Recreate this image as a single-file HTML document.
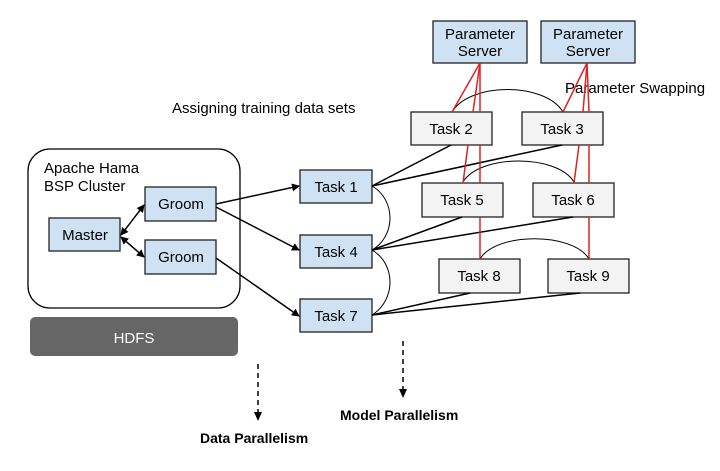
<!DOCTYPE html>
<html><head><style>
html,body{margin:0;padding:0;background:#fff;}
svg text{font-family:"Liberation Sans",Arial,sans-serif;}
</style></head><body>
<svg width="720" height="466" viewBox="0 0 720 466" xmlns="http://www.w3.org/2000/svg">
<defs>
<marker id="a" markerWidth="8" markerHeight="8" refX="7" refY="4" orient="auto" markerUnits="userSpaceOnUse"><path d="M0,0 L8,4 L0,8 z" fill="#000"/></marker>
<marker id="as" markerWidth="8" markerHeight="8" refX="1" refY="4" orient="auto" markerUnits="userSpaceOnUse"><path d="M8,0 L0,4 L8,8 z" fill="#000"/></marker>
</defs>
<rect x="28" y="149" width="212" height="159" rx="22" fill="#fff" stroke="#000" stroke-width="1.3"/>
<text x="44" y="173" font-size="15">Apache Hama</text>
<text x="44" y="191" font-size="15">BSP Cluster</text>
<rect x="30" y="317" width="208" height="39" rx="5" fill="#666"/>
<text x="134" y="343" font-size="15" fill="#fff" text-anchor="middle">HDFS</text>
<g fill="#cfe2f3" stroke="#222" stroke-width="1.3">
<rect x="49" y="218" width="71" height="33"/>
<rect x="145" y="187" width="71" height="34"/>
<rect x="145" y="240" width="71" height="34"/>
<rect x="300" y="170" width="72" height="33"/>
<rect x="300" y="235" width="72" height="33"/>
<rect x="300" y="299" width="72" height="33"/>
<rect x="433" y="21" width="94" height="42"/>
<rect x="541" y="21" width="94" height="42"/>
</g>
<g fill="#f3f3f3" stroke="#222" stroke-width="1.3">
<rect x="411" y="112" width="81" height="33"/>
<rect x="522" y="112" width="81" height="33"/>
<rect x="422" y="183" width="81" height="34"/>
<rect x="533" y="183" width="81" height="34"/>
<rect x="439" y="259" width="81" height="34"/>
<rect x="548" y="259" width="81" height="34"/>
</g>
<g font-size="15" text-anchor="middle">
<text x="85" y="240">Master</text>
<text x="181" y="209">Groom</text>
<text x="181" y="262">Groom</text>
<text x="336" y="192">Task 1</text>
<text x="336" y="257">Task 4</text>
<text x="336" y="321">Task 7</text>
<text x="480" y="39">Parameter</text>
<text x="480" y="56">Server</text>
<text x="588" y="39">Parameter</text>
<text x="588" y="56">Server</text>
<text x="451" y="134">Task 2</text>
<text x="562" y="134">Task 3</text>
<text x="462" y="205">Task 5</text>
<text x="573" y="205">Task 6</text>
<text x="479" y="281">Task 8</text>
<text x="588" y="281">Task 9</text>
</g>
<text x="172" y="113" font-size="15">Assigning training data sets</text>
<text x="565" y="93" font-size="15">Parameter Swapping</text>
<g stroke="#000" stroke-width="1.5" fill="none">
<line x1="216" y1="204" x2="299" y2="186" marker-end="url(#a)"/>
<line x1="216" y1="207" x2="299" y2="250" marker-end="url(#a)"/>
<line x1="216" y1="258" x2="299" y2="316" marker-end="url(#a)"/>
<line x1="121" y1="235" x2="144" y2="205" marker-end="url(#a)" marker-start="url(#as)"/>
<line x1="121" y1="237" x2="144" y2="257" marker-end="url(#a)" marker-start="url(#as)"/>
<line x1="372" y1="186" x2="451" y2="145"/>
<line x1="372" y1="186" x2="562" y2="145"/>
<line x1="372" y1="250" x2="462" y2="217"/>
<line x1="372" y1="250" x2="573" y2="217"/>
<line x1="372" y1="315" x2="470" y2="293"/>
<line x1="372" y1="315" x2="580" y2="293"/>
</g>
<g stroke="#000" stroke-width="1" fill="none">
<path d="M372,186 C396,200 396,236 372,250"/>
<path d="M372,250 C396,264 396,300 372,315"/>
<path d="M452,112 C470,82 545,82 563,112"/>
<path d="M463,182 C480,154 557,154 574,182"/>
<path d="M480,259 C496,232 573,232 589,259"/>
</g>
<g stroke="#d22" stroke-width="1.5" fill="none">
<line x1="480" y1="63" x2="452" y2="112"/>
<line x1="480" y1="63" x2="473" y2="112"/>
<line x1="480" y1="63" x2="480" y2="112"/>
<line x1="480" y1="145" x2="480" y2="183"/>
<line x1="480" y1="217" x2="480" y2="259"/>
<line x1="468" y1="145" x2="463" y2="183"/>
<line x1="587" y1="63" x2="563" y2="112"/>
<line x1="587" y1="63" x2="583" y2="112"/>
<line x1="587" y1="63" x2="589" y2="112"/>
<line x1="589" y1="145" x2="589" y2="183"/>
<line x1="589" y1="217" x2="589" y2="259"/>
<line x1="579" y1="145" x2="574" y2="183"/>
</g>
<g stroke="#000" stroke-width="1.5" stroke-dasharray="5,4">
<line x1="258" y1="364" x2="258" y2="412"/>
<line x1="403" y1="341" x2="403" y2="390"/>
</g>
<path d="M254,412 L262,412 L258,421 z"/>
<path d="M399,389 L407,389 L403,398 z"/>
<g font-size="14" font-weight="bold">
<text x="200" y="443">Data Parallelism</text>
<text x="340" y="420">Model Parallelism</text>
</g>
</svg>
</body></html>
